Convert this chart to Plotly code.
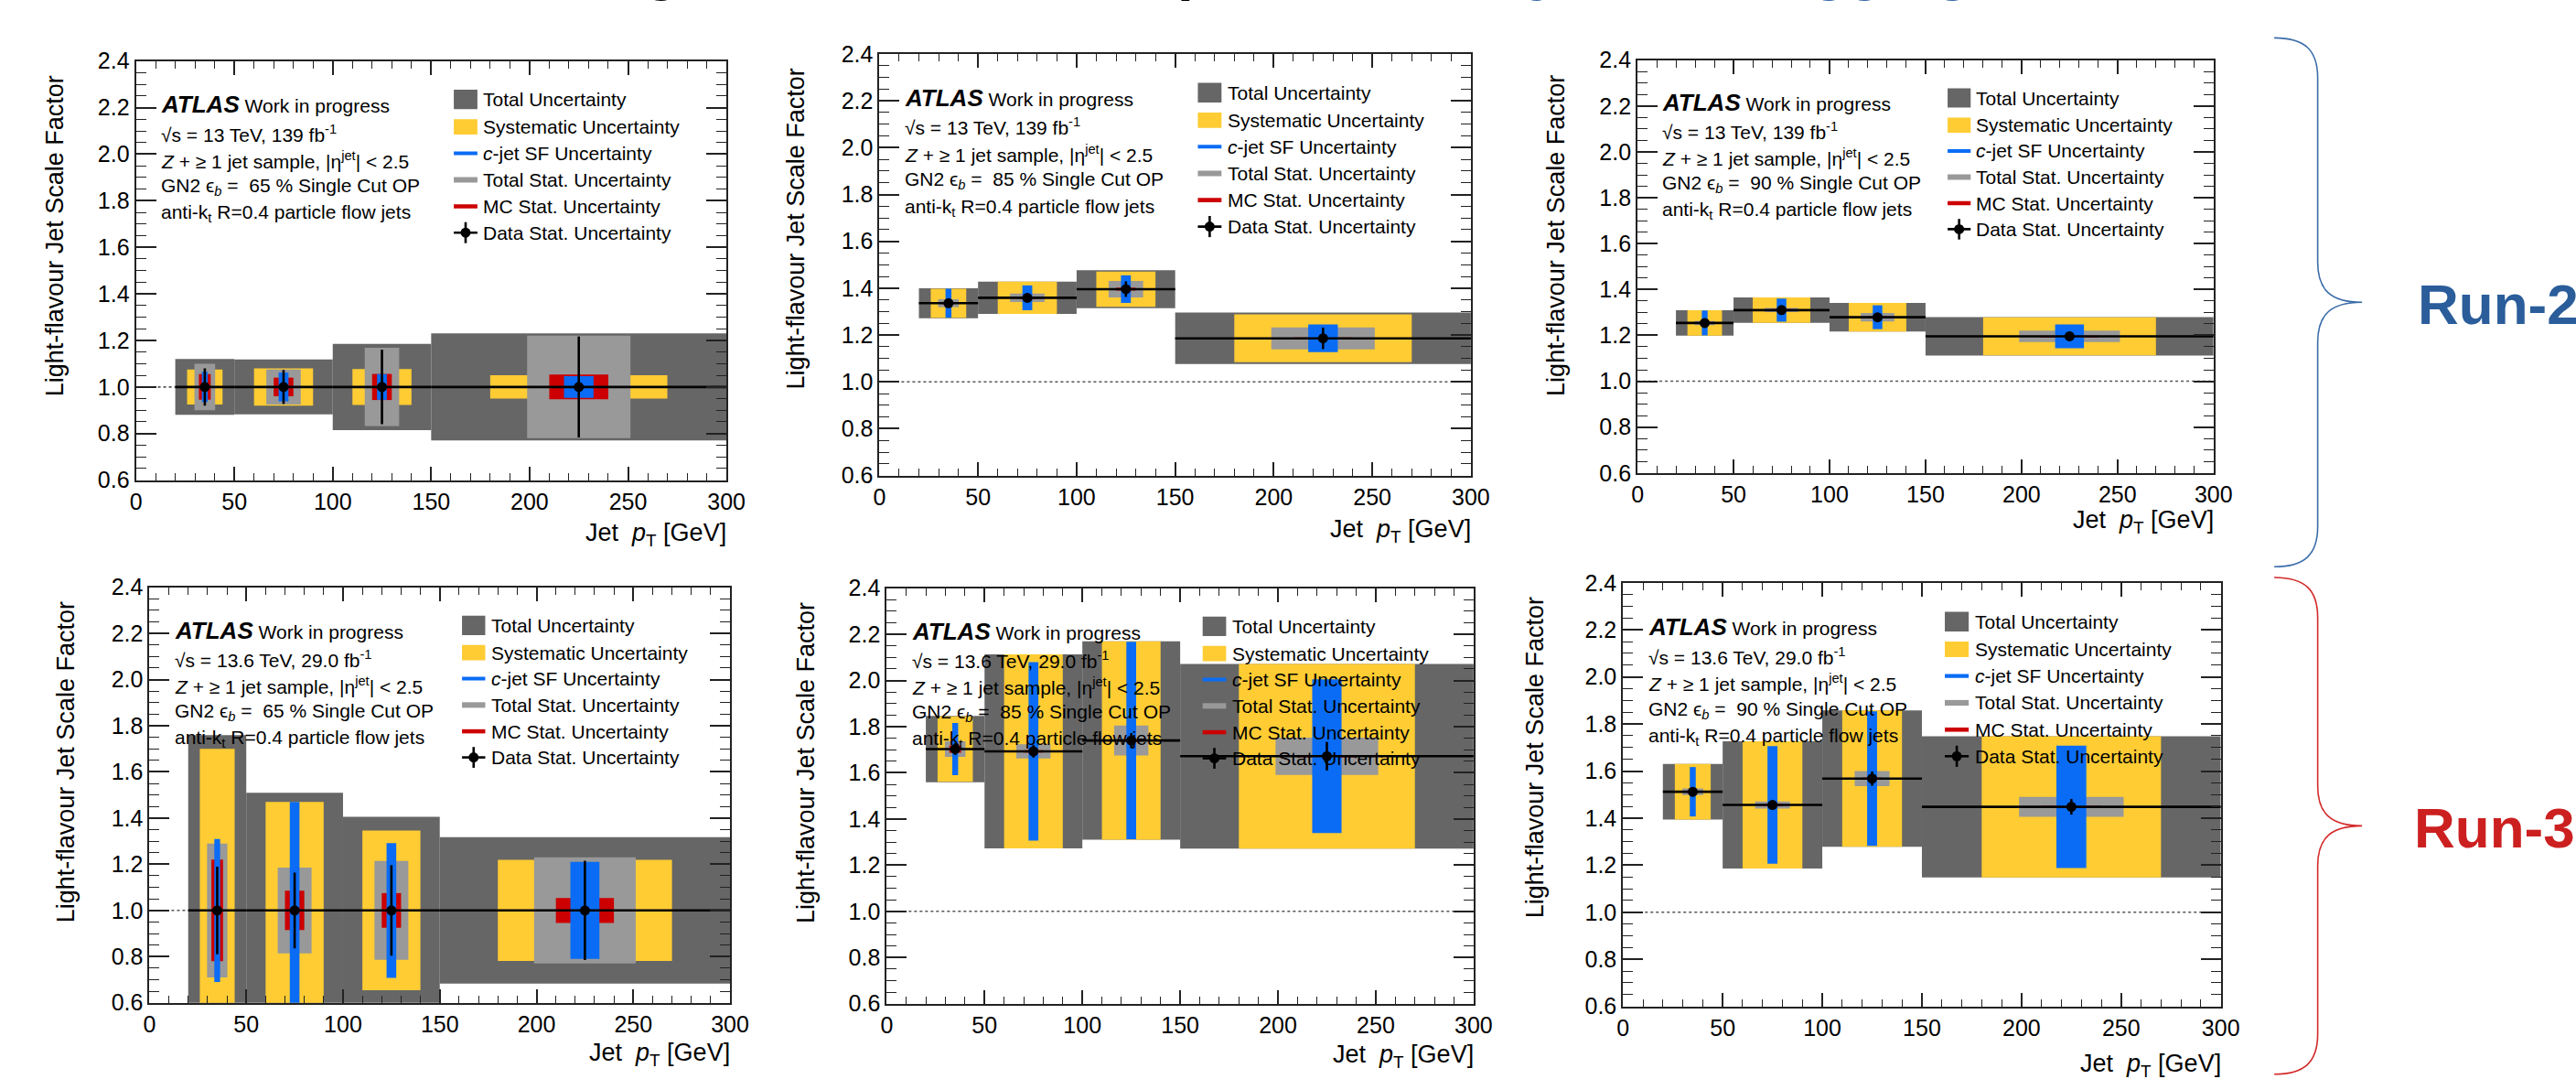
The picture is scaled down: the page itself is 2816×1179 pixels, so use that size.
import plotly.graph_objects as go

W, H = 2816, 1179
FONT = "Liberation Sans, Arial, Helvetica, sans-serif"

# ---------------- data ----------------
pt_bin_lo = [20, 50, 100, 150]
pt_bin_hi = [50, 100, 150, 300]
pt_range = [0, 300]
sf_range = [0.6, 2.4]
sf_reference = 1.0
pt_ticks = [0, 50, 100, 150, 200, 250, 300]
sf_ticks = [0.6, 0.8, 1.0, 1.2, 1.4, 1.6, 1.8, 2.0, 2.2, 2.4]

# Run-2, GN2 65 % OP
r2_65_sf   = [1.000, 1.000, 1.000, 1.000]
r2_65_tot  = [0.120, 0.118, 0.185, 0.230]
r2_65_syst = [0.075, 0.080, 0.077, 0.050]
r2_65_stat = [0.100, 0.075, 0.168, 0.220]
r2_65_mc   = [0.055, 0.040, 0.056, 0.053]
r2_65_cjet = [0.065, 0.062, 0.055, 0.047]
r2_65_data = [0.080, 0.073, 0.160, 0.217]

# Run-2, GN2 85 % OP
r2_85_sf   = [1.336, 1.359, 1.396, 1.186]
r2_85_tot  = [0.064, 0.069, 0.081, 0.110]
r2_85_syst = [0.062, 0.069, 0.075, 0.102]
r2_85_stat = [0.017, 0.018, 0.035, 0.047]
r2_85_mc   = [0.004, 0.004, 0.006, 0.004]
r2_85_cjet = [0.062, 0.053, 0.059, 0.059]
r2_85_data = [0.016, 0.017, 0.033, 0.046]

# Run-2, GN2 90 % OP
r2_90_sf   = [1.254, 1.310, 1.279, 1.196]
r2_90_tot  = [0.055, 0.055, 0.062, 0.084]
r2_90_syst = [0.055, 0.055, 0.062, 0.083]
r2_90_stat = [0.009, 0.009, 0.018, 0.025]
r2_90_mc   = [0.003, 0.003, 0.003, 0.003]
r2_90_cjet = [0.054, 0.050, 0.052, 0.052]
r2_90_data = [0.012, 0.013, 0.016, 0.021]

# Run-3, GN2 65 % OP
r3_65_sf   = [1.000, 1.000, 1.000, 1.000]
r3_65_tot  = [0.760, 0.510, 0.406, 0.317]
r3_65_syst = [0.700, 0.470, 0.346, 0.219]
r3_65_stat = [0.290, 0.186, 0.214, 0.230]
r3_65_mc   = [0.220, 0.085, 0.075, 0.054]
r3_65_cjet = [0.310, 0.470, 0.292, 0.210]
r3_65_data = [0.190, 0.164, 0.196, 0.215]

# Run-3, GN2 85 % OP
r3_85_sf   = [1.703, 1.693, 1.740, 1.672]
r3_85_tot  = [0.144, 0.420, 0.430, 0.400]
r3_85_syst = [0.142, 0.420, 0.430, 0.400]
r3_85_stat = [0.034, 0.031, 0.065, 0.081]
r3_85_mc   = [0.016, 0.005, 0.005, 0.005]
r3_85_cjet = [0.113, 0.387, 0.428, 0.333]
r3_85_data = [0.025, 0.027, 0.032, 0.062]

# Run-3, GN2 90 % OP
r3_90_sf   = [1.512, 1.456, 1.568, 1.448]
r3_90_tot  = [0.118, 0.270, 0.290, 0.300]
r3_90_syst = [0.118, 0.270, 0.290, 0.300]
r3_90_stat = [0.014, 0.015, 0.032, 0.042]
r3_90_mc   = [0.004, 0.004, 0.004, 0.004]
r3_90_cjet = [0.105, 0.250, 0.286, 0.260]
r3_90_data = [0.020, 0.018, 0.030, 0.033]

run_energy = {"r2": "13", "r3": "13.6"}
run_lumi = {"r2": "139", "r3": "29.0"}
op_eff = {"65": "65", "85": "85", "90": "90"}

panel_data = {
    "r2_65": (r2_65_sf, r2_65_tot, r2_65_syst, r2_65_stat, r2_65_mc, r2_65_cjet, r2_65_data),
    "r2_85": (r2_85_sf, r2_85_tot, r2_85_syst, r2_85_stat, r2_85_mc, r2_85_cjet, r2_85_data),
    "r2_90": (r2_90_sf, r2_90_tot, r2_90_syst, r2_90_stat, r2_90_mc, r2_90_cjet, r2_90_data),
    "r3_65": (r3_65_sf, r3_65_tot, r3_65_syst, r3_65_stat, r3_65_mc, r3_65_cjet, r3_65_data),
    "r3_85": (r3_85_sf, r3_85_tot, r3_85_syst, r3_85_stat, r3_85_mc, r3_85_cjet, r3_85_data),
    "r3_90": (r3_90_sf, r3_90_tot, r3_90_syst, r3_90_stat, r3_90_mc, r3_90_cjet, r3_90_data),
}

# ---------------- layout / style ----------------
C_TOT = "#666666"
C_SYST = "#FFCC33"
C_CJET = "#0A6CF5"
C_STAT = "#999999"
C_MC = "#CC0000"
C_DATA = "#000000"

# (component index, colour, fraction of bin width)
components = [(1, C_TOT, 1.0), (2, C_SYST, 0.6), (3, C_STAT, 0.35), (4, C_MC, 0.2), (5, C_CJET, 0.1)]

# panel key, left, right, top, bottom (px), y-title centre x, x-title centre y
PANELS = [
    ("r2_65", 143, 795, 54, 523, 53, 584),
    ("r2_85", 964, 1617, 46, 518, 872, 580),
    ("r2_90", 1801, 2437, 53, 515, 1711, 570),
    ("r3_65", 158, 799, 643, 1108, 66, 1166),
    ("r3_85", 972, 1620, 644, 1109, 883, 1168),
    ("r3_90", 1785, 2445, 638, 1112, 1688, 1178),
]

INFO_X = 12.0
INFO_ROWS = [2.214, 2.090, 1.975, 1.860, 1.745]
LEG_X0, LEG_X1, LEG_TX = 161.5, 173.5, 175.5
LEG_ROWS = [2.235, 2.117, 2.004, 1.890, 1.776, 1.663]


def px(x):
    return x / W


def py(y):
    return 1 - y / H


fig = go.Figure()
shapes = []
annotations = []
layout_axes = {}

mids = [(a + b) / 2 for a, b in zip(pt_bin_lo, pt_bin_hi)]
halfw = [(b - a) / 2 for a, b in zip(pt_bin_lo, pt_bin_hi)]
binw = [(b - a) for a, b in zip(pt_bin_lo, pt_bin_hi)]

for i, (key, L, R, T, B, ytx, xty) in enumerate(PANELS, start=1):
    xa = "x" if i == 1 else f"x{i}"
    ya = "y" if i == 1 else f"y{i}"
    xname = "xaxis" if i == 1 else f"xaxis{i}"
    yname = "yaxis" if i == 1 else f"yaxis{i}"
    vals = panel_data[key]
    sf = vals[0]

    # reference line at SF = 1
    fig.add_trace(go.Scatter(x=pt_range, y=[sf_reference, sf_reference], mode="lines",
                             line=dict(color="#555555", width=1.6, dash="dot"),
                             xaxis=xa, yaxis=ya, showlegend=False, hoverinfo="skip"))
    # uncertainty boxes
    for idx, col, frac in components:
        err = vals[idx]
        fig.add_trace(go.Bar(x=mids, y=[2 * e for e in err], base=[c - e for c, e in zip(sf, err)],
                             width=[frac * w for w in binw],
                             marker=dict(color=col, line=dict(width=0)),
                             xaxis=xa, yaxis=ya, showlegend=False, hoverinfo="skip"))
    # data points
    fig.add_trace(go.Scatter(x=mids, y=sf, mode="markers",
                             marker=dict(color=C_DATA, size=11),
                             error_x=dict(type="data", array=halfw, width=0, thickness=2.6, color=C_DATA),
                             error_y=dict(type="data", array=vals[6], width=0, thickness=2.6, color=C_DATA),
                             xaxis=xa, yaxis=ya, showlegend=False, hoverinfo="skip"))

    common = dict(showline=True, linecolor="#222222", linewidth=2, mirror="allticks",
                  ticks="inside", tickcolor="#222222", tickwidth=1.5, showgrid=False, zeroline=False,
                  tickfont=dict(family=FONT, size=25, color="black"))
    layout_axes[xname] = dict(common, domain=[px(L), px(R)], anchor=ya, range=pt_range,
                              tickvals=pt_ticks, ticklen=15,
                              minor=dict(ticks="inside", dtick=10, tick0=0, ticklen=8, tickwidth=1.2,
                                         tickcolor="#222222", showgrid=False))
    layout_axes[yname] = dict(common, domain=[py(B), py(T)], anchor=xa, range=sf_range,
                              tickvals=sf_ticks, tickformat=".1f", ticklen=22,
                              minor=dict(ticks="inside", dtick=0.05, tick0=0.6, ticklen=11, tickwidth=1.2,
                                         tickcolor="#222222", showgrid=False))

    # axis titles
    annotations.append(dict(text="Light-flavour Jet Scale Factor", textangle=-90, xref="paper", yref="paper",
                            x=px(ytx), y=py(T + 14), xanchor="center", yanchor="top", showarrow=False,
                            font=dict(family=FONT, size=27, color="black")))
    annotations.append(dict(text="Jet\u00a0 <i>p</i><sub>T</sub> [GeV]", xref="paper", yref="paper",
                            x=px(R + 2), y=py(xty), xanchor="right", yanchor="middle", showarrow=False,
                            font=dict(family=FONT, size=27, color="black")))

    run, op = key.split("_")
    info = [
        "<span style='font-size:26px'><b><i>ATLAS</i></b></span> Work in progress",
        f"√s = {run_energy[run]} TeV, {run_lumi[run]} fb<sup>-1</sup>",
        "<i>Z</i> + ≥ 1 jet sample, |η<sup>jet</sup>| &lt; 2.5",
        f"GN2 ϵ<sub><i>b</i></sub> =  {op_eff[op]} % Single Cut OP",
        "anti-k<sub>t</sub> R=0.4 particle flow jets",
    ]
    for txt, yv in zip(info, INFO_ROWS):
        annotations.append(dict(text=txt, xref=xa, yref=ya, x=INFO_X, y=yv, xanchor="left",
                                yanchor="middle", showarrow=False,
                                font=dict(family=FONT, size=21, color="black")))

    # legend (drawn in axis coordinates)
    leg = [
        ("Total Uncertainty", C_TOT, 0.042),
        ("Systematic Uncertainty", C_SYST, 0.033),
        ("<i>c</i>-jet SF Uncertainty", C_CJET, 0.008),
        ("Total Stat. Uncertainty", C_STAT, 0.012),
        ("MC Stat. Uncertainty", C_MC, 0.009),
        ("Data Stat. Uncertainty", None, None),
    ]
    for (label, col, hh), yv in zip(leg, LEG_ROWS):
        if col is not None:
            shapes.append(dict(type="rect", xref=xa, yref=ya, x0=LEG_X0, x1=LEG_X1, y0=yv - hh, y1=yv + hh,
                               fillcolor=col, line=dict(width=0), layer="above"))
        else:
            xm = (LEG_X0 + LEG_X1) / 2
            shapes.append(dict(type="line", xref=xa, yref=ya, x0=LEG_X0, x1=LEG_X1, y0=yv, y1=yv,
                               line=dict(color="black", width=2.6), layer="above"))
            shapes.append(dict(type="line", xref=xa, yref=ya, x0=xm, x1=xm, y0=yv - 0.045, y1=yv + 0.045,
                               line=dict(color="black", width=2.6), layer="above"))
            shapes.append(dict(type="circle", xref=xa, yref=ya, xsizemode="pixel", ysizemode="pixel",
                               xanchor=xm, yanchor=yv, x0=-5.5, x1=5.5, y0=-5.5, y1=5.5,
                               fillcolor="black", line=dict(width=0), layer="above"))
        annotations.append(dict(text=label, xref=xa, yref=ya, x=LEG_TX, y=yv, xanchor="left",
                                yanchor="middle", showarrow=False,
                                font=dict(family=FONT, size=21, color="black")))


# braces on the right-hand side
def brace(x_end, x_mid, x_tip, y_top, y_tip, y_bot, r=45):
    def P(x, y):
        return f"{px(x):.6f},{py(y):.6f}"
    d = f"M{P(x_end, y_top)} "
    d += f"C{P(x_end + 0.7 * (x_mid - x_end), y_top)} {P(x_mid, y_top + 0.3 * r)} {P(x_mid, y_top + r)} "
    d += f"L{P(x_mid, y_tip - r)} "
    d += f"C{P(x_mid, y_tip - 0.3 * r)} {P(x_mid + 0.3 * (x_tip - x_mid), y_tip)} {P(x_tip, y_tip)} "
    d += f"C{P(x_mid + 0.3 * (x_tip - x_mid), y_tip)} {P(x_mid, y_tip + 0.3 * r)} {P(x_mid, y_tip + r)} "
    d += f"L{P(x_mid, y_bot - r)} "
    d += f"C{P(x_mid, y_bot - 0.3 * r)} {P(x_end + 0.7 * (x_mid - x_end), y_bot)} {P(x_end, y_bot)}"
    return d


shapes.append(dict(type="path", xref="paper", yref="paper", path=brace(2504, 2552, 2601, 28, 324, 620),
                   line=dict(color="#3B6DAA", width=1.6)))
shapes.append(dict(type="path", xref="paper", yref="paper", path=brace(2504, 2552, 2601, 632, 910, 1188),
                   line=dict(color="#D42A2A", width=1.6)))

annotations.append(dict(text="<b>Run-2</b>", xref="paper", yref="paper", x=px(2660), y=py(326),
                        xanchor="left", yanchor="middle", showarrow=False,
                        font=dict(family=FONT, size=62, color="#2A5D9A")))
annotations.append(dict(text="<b>Run-3</b>", xref="paper", yref="paper", x=px(2656), y=py(912),
                        xanchor="left", yanchor="middle", showarrow=False,
                        font=dict(family=FONT, size=62, color="#CC2020")))

# slide title (only the descenders reach into the page, as in the reference)
annotations.append(dict(text="<b>Light-flavour SF comparison: <span style='color:#2E62A8'>early Run-3 tagging</span></b>",
                        xref="paper", yref="paper", x=px(1408), y=py(9), xanchor="center", yanchor="bottom",
                        yshift=19, showarrow=False, font=dict(family=FONT, size=64, color="black")))

fig.update_layout(
    width=W, height=H, margin=dict(l=0, r=0, t=0, b=0),
    paper_bgcolor="white", plot_bgcolor="white",
    barmode="overlay", showlegend=False,
    font=dict(family=FONT, color="black"),
    shapes=shapes, annotations=annotations,
    **layout_axes,
)

fig.write_html("out.html", config={"displayModeBar": False},
               post_script="document.body.style.margin='0';")
